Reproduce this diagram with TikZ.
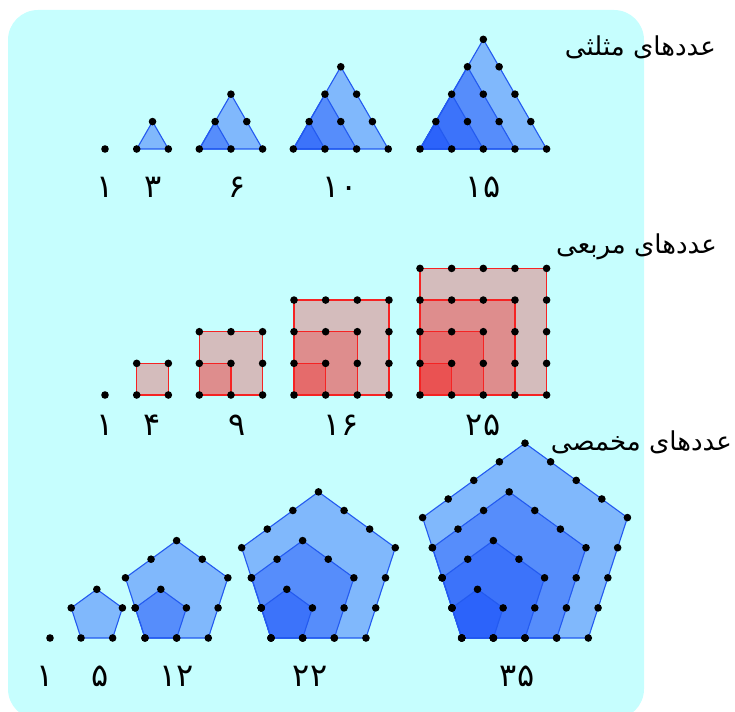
\documentclass[tikz,border=0pt]{standalone}
\usepackage{fontspec}
\newfontfamily\fa[Script=Arabic]{DejaVu Sans}
\TeXXeTstate=1
\definecolor{bgc}{RGB}{198,254,254}
\definecolor{blc}{RGB}{20,75,250}
\definecolor{bledge}{RGB}{35,90,240}
\definecolor{rdc}{RGB}{250,20,20}
\definecolor{rdedge}{RGB}{245,35,35}
\def\ds{31.65}
\def\dh{27.41}
\begin{document}
\begin{tikzpicture}[x=1pt,y=-1pt,
  bluelayer/.style={fill=blc,fill opacity=0.39,draw=bledge,line width=1.1pt,line join=round},
  redlayer/.style={fill=rdc,fill opacity=0.28,draw=rdedge,line width=1.4pt},
  dotc/.style={fill=black},
  title/.style={anchor=east,inner sep=0pt,font=\fa\fontsize{26}{30}\selectfont},
  num/.style={inner sep=0pt,font=\fa\fontsize{32}{36}\selectfont}]
\useasboundingbox (0,0) rectangle (735,711);
\fill[bgc,rounded corners=30pt] (8,10) rectangle (644,719);

% ---------- triangular numbers ----------
\fill[dotc] (105,149) circle (3.8pt);
\foreach \x/\n in {136.7/1,199.3/2,293.3/3,420/4}{
  \foreach \k in {\n,...,1}{
    \filldraw[bluelayer] (\x,149) -- ++(\k*\ds,0) -- ++(-\k*\ds/2,-\k*\dh) -- cycle;
  }
  \foreach \j in {0,...,\n}{
    \pgfmathtruncatemacro\mm{\n-\j}
    \foreach \i in {0,...,\mm}{
      \fill[dotc] (\x+\i*\ds+\j*\ds/2,149-\j*\dh) circle (3.8pt);
    }
  }
}

% ---------- square numbers ----------
\fill[dotc] (105,395) circle (3.8pt);
\foreach \x/\n in {136.7/1,199.3/2,294/3,420/4}{
  \foreach \k in {\n,...,1}{
    \filldraw[redlayer] (\x,395) rectangle ++(\k*\ds,-\k*\ds);
  }
  \foreach \j in {0,...,\n}{
    \foreach \i in {0,...,\n}{
      \fill[dotc] (\x+\i*\ds,395-\j*\ds) circle (3.8pt);
    }
  }
}

% ---------- pentagonal numbers ----------
\fill[dotc] (50,638) circle (3.8pt);
\foreach \x/\n in {81/1,145/2,271/3,461.7/4}{
  \foreach \k in {\n,...,1}{
    \filldraw[bluelayer] (\x,638) -- (\x+\k*\ds,638)
      -- (\x+1.309017*\k*\ds,638-0.951057*\k*\ds)
      -- (\x+0.5*\k*\ds,638-1.538842*\k*\ds)
      -- (\x-0.309017*\k*\ds,638-0.951057*\k*\ds) -- cycle;
  }
  \foreach \k in {1,...,\n}{
    \pgfmathtruncatemacro\km{\k-1}
    \foreach \vx/\vy/\ex/\ey in {0/0/1/0, 1/0/0.309017/-0.951057, 1.309017/-0.951057/-0.809017/-0.587785, 0.5/-1.538842/-0.809017/0.587785, -0.309017/-0.951057/0.309017/0.951057}{
      \foreach \t in {0,...,\km}{
        \fill[dotc] (\x+\ds*\k*\vx+\ds*\t*\ex,638+\ds*\k*\vy+\ds*\t*\ey) circle (3.8pt);
      }
    }
  }
}

% ---------- titles ----------
\node[title] (tri) at (716,47) {\beginR عددهای مثلثی\endR};
\node[title] (sq) at (717,247) {\beginR عددهای مربعی\endR};
\node[title] (pen) at (732,442) {\beginR عددهای مخمصی\endR};

% ---------- numbers ----------
\node[num] (t1) at (105,187) {۱};
\node[num] (t3) at (153,187) {۳};
\node[num] (t6) at (237,187) {۶};
\node[num] (t10) at (340,187) {۱۰};
\node[num] (t15) at (483,187) {۱۵};

\node[num] (s1) at (105,425) {۱};
\node[num] (s4) at (152,425) {۴};
\node[num] (s9) at (237,425) {۹};
\node[num] (s16) at (341,425) {۱۶};
\node[num] (s25) at (483,425) {۲۵};

\node[num] (p1) at (45,676) {۱};
\node[num] (p5) at (100,676) {۵};
\node[num] (p12) at (177,676) {۱۲};
\node[num] (p22) at (310,676) {۲۲};
\node[num] (p35) at (517,676) {۳۵};
\end{tikzpicture}
\end{document}
